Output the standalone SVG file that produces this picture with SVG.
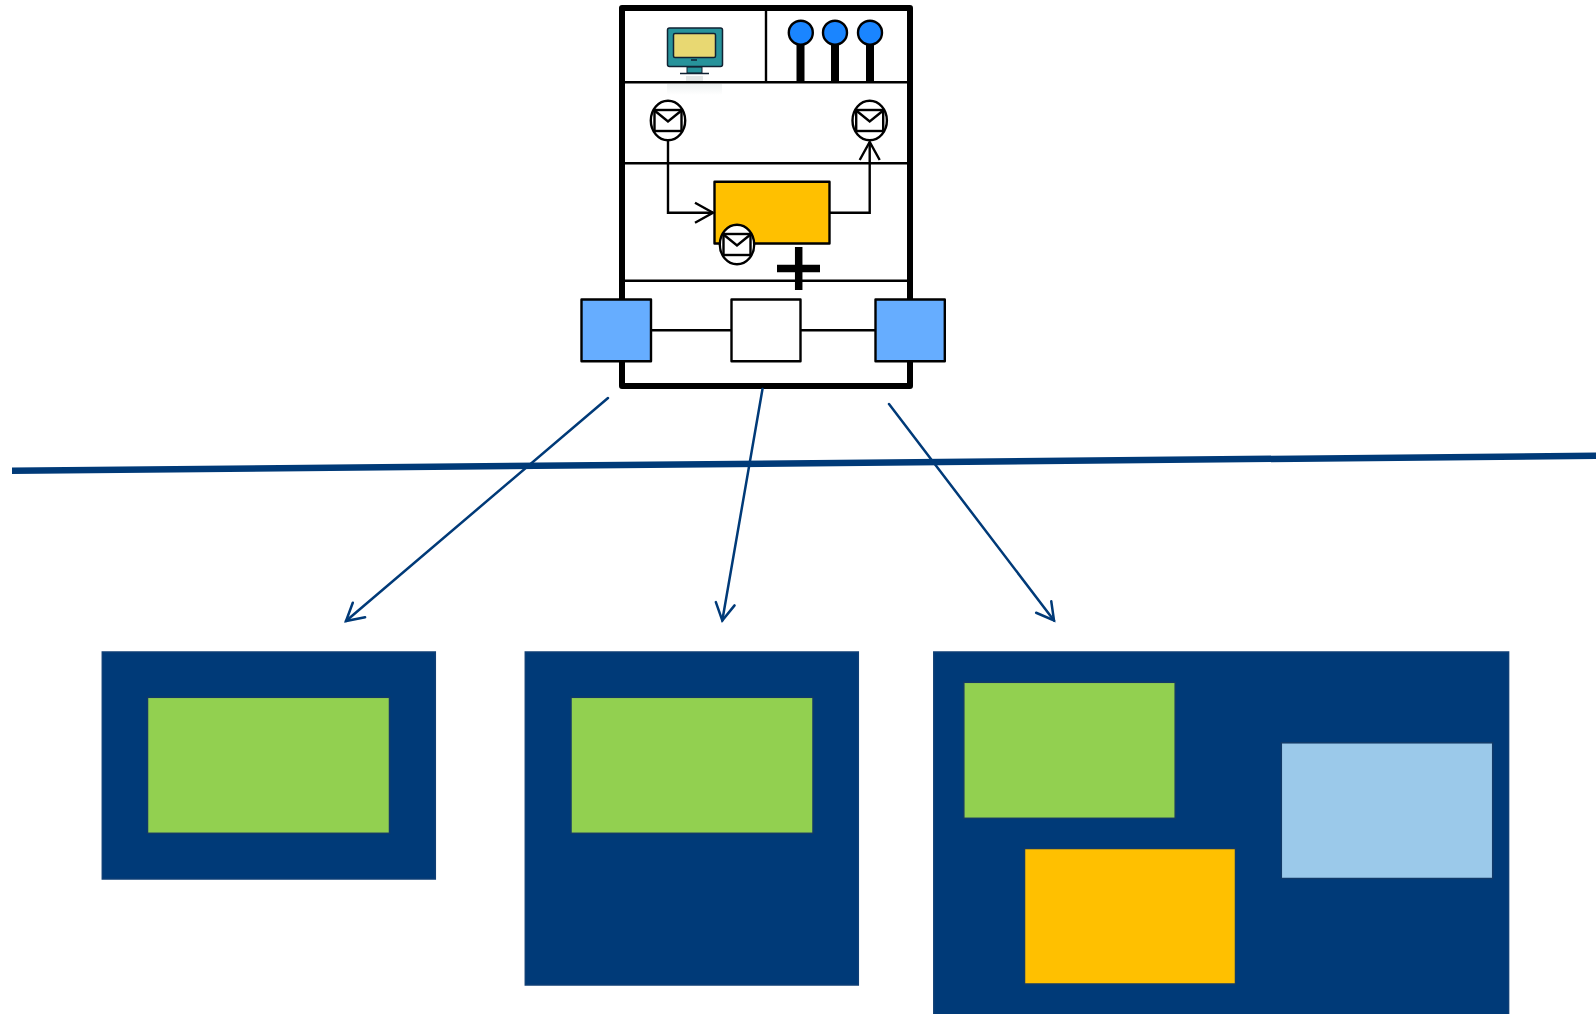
<svg xmlns="http://www.w3.org/2000/svg" width="1596" height="1014" viewBox="0 0 1596 1014">
<style>
.k{fill:none;stroke:#000;stroke-width:2.4}
.box{stroke:#000;stroke-width:2.4;stroke-linejoin:round}
.pane{fill:#003a78;stroke:#0f3f76;stroke-width:1.5}
.in{stroke:#123a68;stroke-width:1.5}
.link{fill:none;stroke:#003a78;stroke-width:2.5;stroke-linecap:round;marker-end:url(#ab)}
.env{fill:#fff;stroke:#000;stroke-width:2.4}
</style>
<defs>
<marker id="ab" markerUnits="userSpaceOnUse" markerWidth="30" markerHeight="30" refX="24" refY="15" orient="auto" overflow="visible"><path d="M7,5.500 L24,15 L7,24.500" fill="none" stroke="#003a78" stroke-width="2.500" stroke-linecap="round"/></marker>
<marker id="ak" markerUnits="userSpaceOnUse" markerWidth="30" markerHeight="30" refX="23" refY="15" orient="auto" overflow="visible"><path d="M5,5 L23,15 L5,25" fill="none" stroke="#000" stroke-width="2.400"/></marker>
<linearGradient id="rf" x1="0" y1="0" x2="0" y2="1"><stop offset="0" stop-color="#eef1f1"/><stop offset="1" stop-color="#fff"/></linearGradient>
<g id="envelope"><ellipse cx="0" cy="0" rx="17.200" ry="19.700" class="env"/><rect x="-13.500" y="-10.500" width="27" height="21" class="env"/><path d="M-13.500,-10 L0,1 L13.500,-10" class="k"/></g>
</defs>
<rect width="1596" height="1014" fill="#fff"/>

<g id="container">
<rect x="622" y="8" width="288" height="378" fill="#fff" stroke="#000" stroke-width="6" stroke-linejoin="round"/>
<path class="k" d="M622,82.300H910M766,8V82.300M622,163.300H910M622,280.800H910"/>
</g>
<g id="monitor">
<rect x="667" y="84" width="55" height="11" fill="url(#rf)"/>
<rect x="686" y="76" width="17" height="5" fill="#e3e6e6"/>
<path d="M687,67H702V73H687Z" fill="#27939b" stroke="#123" stroke-width="1"/>
<rect x="667.500" y="28" width="55" height="38.500" rx="2" fill="#27939b" stroke="#123" stroke-width="1.500"/>
<rect x="673.500" y="33.500" width="42" height="24" rx="1.500" fill="#e8d872" stroke="#123" stroke-width="1.500"/>
<path d="M680,73.500H709" stroke="#123" stroke-width="1.500"/>
<path d="M691,60H697" stroke="#123" stroke-width="1.500"/>
</g>
<g id="pins">
<path d="M800.500,44V81M835,44V81M870,44V81" stroke="#000" stroke-width="8"/>
<circle cx="800.800" cy="32.700" r="12" fill="#1a85ff" stroke="#000" stroke-width="2.400"/>
<circle cx="835" cy="32.700" r="12" fill="#1a85ff" stroke="#000" stroke-width="2.400"/>
<circle cx="870" cy="32.700" r="12" fill="#1a85ff" stroke="#000" stroke-width="2.400"/>
</g>
<g id="task"><rect x="714.500" y="181.700" width="115" height="61.800" fill="#ffc000" class="box"/></g>
<g id="connectors">
<path class="k" d="M668,140V212.700H713" marker-end="url(#ak)"/>
<path class="k" d="M830,212.700H869.700V142" marker-end="url(#ak)"/>
<path class="k" d="M651,330.300H731M801,330.300H875"/>
<path class="link" d="M608,398L346,621"/>
<path class="link" d="M762.500,389L722.300,620.500"/>
<path class="link" d="M889,404L1054,620.500"/>
</g>
<g id="env-in"><use href="#envelope" x="668" y="120.500"/></g>
<g id="env-out"><use href="#envelope" x="869.700" y="120.500"/></g>
<g id="env-task"><use href="#envelope" x="737" y="244.500"/></g>
<g id="plus"><path d="M798.700,247V290M777,268.500H820" stroke="#000" stroke-width="7.500" fill="none"/></g>
<g id="port-left"><rect x="581.500" y="299.500" width="69.500" height="61.800" fill="#66adff" class="box"/></g>
<g id="center"><rect x="731.500" y="299.500" width="69" height="61.800" fill="#fff" class="box"/></g>
<g id="port-right"><rect x="875.500" y="299.500" width="69.300" height="61.800" fill="#66adff" class="box"/></g>
<g id="divider"><path d="M12,470.800L1596,455.800" stroke="#003a78" stroke-width="6.500" fill="none"/></g>

<g id="pane-1"><rect x="102.300" y="652" width="333" height="227" class="pane"/><rect x="147.500" y="697.300" width="242" height="136" fill="#92d050" class="in"/></g>
<g id="pane-2"><rect x="525.300" y="652" width="333" height="333" class="pane"/><rect x="571" y="697.300" width="242" height="136" fill="#92d050" class="in"/></g>
<g id="pane-3"><rect x="933.800" y="652" width="574.800" height="370" class="pane"/>
<rect x="963.800" y="682.300" width="211.400" height="136" fill="#92d050" class="in"/>
<rect x="1281.300" y="742.800" width="211.400" height="135.700" fill="#9bc9ea" class="in"/>
<rect x="1024.500" y="848.500" width="211" height="135.500" fill="#ffc000" class="in"/></g>
</svg>
